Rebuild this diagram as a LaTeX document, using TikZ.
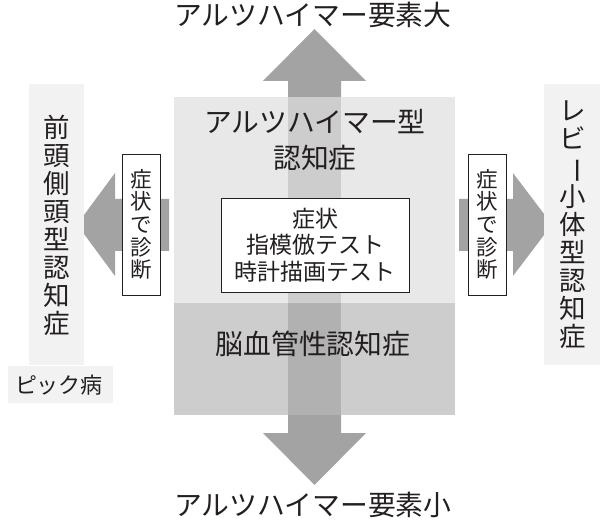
\documentclass[tikz,border=0pt]{standalone}
\usepackage{fontspec}
\setmainfont{Noto Sans CJK JP}
\definecolor{txt}{HTML}{231F20}
\definecolor{sqlight}{HTML}{E8E8E8}
\definecolor{sqdark}{HTML}{CDCDCD}
\definecolor{arrowout}{HTML}{A3A3A3}
\definecolor{shaftlight}{HTML}{CDCDCD}
\definecolor{shaftdark}{HTML}{B1B1B1}
\definecolor{sidebox}{HTML}{F2F2F2}
\newcommand{\vbar}{\rotatebox[origin=c]{-90}{ー}}
\begin{document}
\begin{tikzpicture}[x=1pt,y=-1pt,
  every node/.style={text=txt, inner sep=0pt},
  bigtext/.style={font=\fontsize{27.8}{36}\selectfont, align=center},
  vtext/.style={font=\fontsize{26.5}{28}\selectfont, align=center},
  diagbox/.style={draw=txt, line width=0.8pt, fill=white},
  diagtext/.style={font=\fontsize{21.5}{22.6}\selectfont, align=center},
  arrowfill/.style={fill=arrowout, draw=none}]
\useasboundingbox (0,0) rectangle (600,521);
% main square
\fill[sqlight] (174,97) rectangle (455,303);
\fill[sqdark] (174,303) rectangle (455,415);
% vertical double arrow
\fill[shaftlight] (288,97) rectangle (341,303);
\fill[shaftdark] (288,303) rectangle (341,415);
\path[arrowfill] (288,97) -- (288,81) -- (263,81) -- (314.5,29) -- (366,81) -- (341,81) -- (341,97) -- cycle;
\path[arrowfill] (288,415) -- (288,433) -- (263,433) -- (314.5,485) -- (366,433) -- (341,433) -- (341,415) -- cycle;
% horizontal arrows
\path[arrowfill] (169,199) -- (115,199) -- (115,173) -- (77,224.5) -- (115,276) -- (115,251) -- (169,251) -- cycle;
\path[arrowfill] (459,199) -- (513,199) -- (513,173) -- (552,224.5) -- (513,276) -- (513,251) -- (459,251) -- cycle;
% side boxes
\fill[sidebox] (29,84) rectangle (84,365);
\fill[sidebox] (8,366) rectangle (113,403);
\fill[sidebox] (544,84) rectangle (600,365);
% labels
\node[bigtext] (top) at (313,15) {アルツハイマー要素大};
\node[bigtext] (bottom) at (313,505) {アルツハイマー要素小};
\node[bigtext] (alz) at (315,140) {アルツハイマー型\\認知症};
\node[bigtext] (vasc) at (313,344) {脳血管性認知症};
\node[diagbox, minimum width=188pt, minimum height=94pt] (center) at (315,245) {};
\node[font=\fontsize{23}{26.5}\selectfont, align=center] (centertext) at (center) {症状\\指模倣テスト\\時計描画テスト};
\node[diagbox, minimum width=38pt, minimum height=141pt] (lbox) at (141,224.5) {};
\node[diagtext] (ltext) at (lbox) {症\\状\\で\\診\\断};
\node[diagbox, minimum width=38pt, minimum height=141pt] (rbox) at (487,224.5) {};
\node[diagtext] (rtext) at (rbox) {症\\状\\で\\診\\断};
\node[vtext] (ftd) at (57,225) {前\\頭\\側\\頭\\型\\認\\知\\症};
\node[vtext] (dlb) at (573,225) {レ\\ビ\\\vbar\\小\\体\\型\\認\\知\\症};
\node[font=\fontsize{22}{22}\selectfont] (pick) at (59,385) {ピック病};
\end{tikzpicture}
\end{document}
